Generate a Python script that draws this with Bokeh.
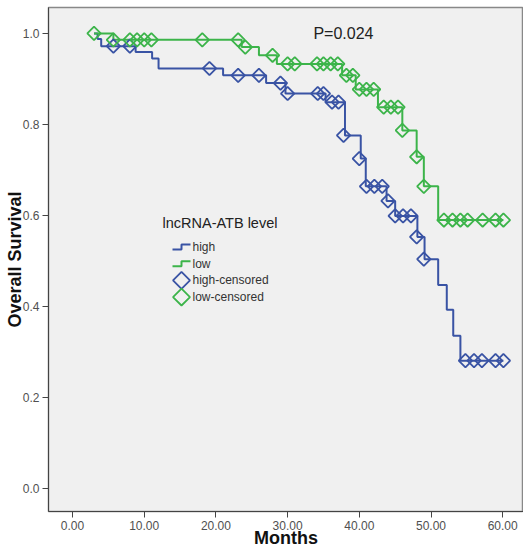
import numpy as np
from bokeh.plotting import figure
from bokeh.models import Range1d, FixedTicker, PrintfTickFormatter, Label
from bokeh.embed import file_html
from bokeh.resources import INLINE

# ---- data ----
high_step_t = [3.0, 3.5, 4.0, 8.8, 11.1, 12.0, 21.0, 27.0, 29.7, 35.3, 38.0, 40.2, 40.9,
               43.8, 45.0, 48.1, 49.1, 51.0, 52.2, 53.1, 54.1, 60.1]
high_step_s = [1.0, 0.988, 0.972, 0.959, 0.945, 0.923, 0.908, 0.891, 0.868, 0.849, 0.776,
               0.725, 0.664, 0.632, 0.599, 0.553, 0.504, 0.447, 0.393, 0.336, 0.281, 0.281]

low_step_t = [3.0, 5.7, 23.6, 26.0, 28.5, 37.6, 39.5, 42.6, 46.0, 48.0, 49.0, 51.0, 60.1]
low_step_s = [1.0, 0.986, 0.970, 0.952, 0.933, 0.908, 0.877, 0.838, 0.787, 0.729, 0.664,
              0.590, 0.590]

high_cens_t = [5.7, 8.0, 19.1, 23.1, 26.0, 29.0, 30.0, 34.2, 35.0, 36.2, 37.1, 37.8, 40.0,
               41.0, 42.1, 43.2, 44.0, 45.0, 46.1, 47.2, 48.0, 49.0, 54.8, 56.0, 57.1,
               59.0, 60.1]
high_cens_s = [0.972, 0.972, 0.923, 0.908, 0.908, 0.891, 0.868, 0.868, 0.868, 0.849, 0.849,
               0.776, 0.725, 0.664, 0.664, 0.664, 0.632, 0.599, 0.599, 0.599, 0.553, 0.504,
               0.281, 0.281, 0.281, 0.281, 0.281]

low_cens_t = [3.0, 5.7, 8.0, 9.0, 10.0, 11.0, 18.1, 23.1, 24.1, 27.9, 30.0, 31.0, 34.1,
              35.0, 36.0, 37.0, 38.2, 39.1, 40.0, 41.0, 42.0, 43.4, 44.4, 45.4, 46.0,
              48.0, 49.0, 51.8, 53.0, 54.1, 55.1, 57.2, 59.0, 60.1]
low_cens_s = [1.0, 0.986, 0.986, 0.986, 0.986, 0.986, 0.986, 0.986, 0.970, 0.952, 0.933,
              0.933, 0.933, 0.933, 0.933, 0.933, 0.908, 0.908, 0.877, 0.877, 0.877, 0.838,
              0.838, 0.838, 0.787, 0.729, 0.664, 0.590, 0.590, 0.590, 0.590, 0.590, 0.590,
              0.590]

x_ticks = [0, 10, 20, 30, 40, 50, 60]
y_ticks = [0.0, 0.2, 0.4, 0.6, 0.8, 1.0]

legend_title = "lncRNA-ATB level"
legend_labels = ["high", "low", "high-censored", "low-censored"]

BLUE = "#3953A4"
GREEN = "#3CB44A"
FONT = "Liberation Sans"

# ---- layout ----
W, H = 523, 550
BL, BB, BT, BR = 48, 38, 7, 0
X0, X1 = -3.35, 62.9
Y0, Y1 = -0.0504, 1.057
FW, FH = W - BL - BR, H - BT - BB


def px_x(px):
    """canvas pixel column -> data x"""
    return X0 + (px - BL) / FW * (X1 - X0)


def px_y(py):
    """canvas pixel row -> data y"""
    return Y1 - (py - BT) / FH * (Y1 - Y0)


p = figure(width=W, height=H, output_backend="svg", toolbar_location=None,
           x_range=Range1d(X0, X1), y_range=Range1d(Y0, Y1),
           min_border_left=BL, min_border_bottom=BB, min_border_top=BT, min_border_right=BR)

p.background_fill_color = "#F0F0F0"
p.border_fill_color = "white"
p.outline_line_color = "#888888"
p.outline_line_width = 1.5
p.xgrid.visible = False
p.ygrid.visible = False

p.step(high_step_t, high_step_s, mode="after", line_color=BLUE, line_width=2)
p.step(low_step_t, low_step_s, mode="after", line_color=GREEN, line_width=2)
p.scatter(high_cens_t, high_cens_s, marker="square", angle=np.pi / 4, size=9.5,
          fill_color=None, line_color=BLUE, line_width=1.8)
p.scatter(low_cens_t, low_cens_s, marker="square", angle=np.pi / 4, size=9.5,
          fill_color=None, line_color=GREEN, line_width=1.8)

for ax in (p.xaxis[0], p.yaxis[0]):
    ax.axis_line_color = "#444444"
    ax.major_tick_line_color = "#444444"
    ax.major_tick_out = 6
    ax.major_tick_in = 0
    ax.minor_tick_line_color = None
    ax.major_label_text_font = FONT
    ax.major_label_text_font_size = "12px"
    ax.major_label_text_color = "#505050"
    ax.axis_label_text_font = FONT
    ax.axis_label_text_font_style = "bold"
    ax.axis_label_text_color = "#111111"
    ax.axis_label_text_font_size = "18px"

p.xaxis.ticker = FixedTicker(ticks=x_ticks)
p.xaxis.formatter = PrintfTickFormatter(format="%.2f")
p.xaxis.axis_label = "Months"
p.xaxis.axis_label_standoff = -5
p.xaxis.major_label_standoff = 3

p.yaxis.ticker = FixedTicker(ticks=y_ticks)
p.yaxis.formatter = PrintfTickFormatter(format="%.1f")
p.yaxis.axis_label = "Overall Survival"
p.yaxis.axis_label_standoff = -5
p.yaxis.major_label_standoff = 3

p.add_layout(Label(x=33.6, y=1.0, text="P=0.024", text_font=FONT, text_font_size="16px",
                   text_color="#222222", text_baseline="middle"))

# ---- legend (SPSS style: title, step keys, diamond keys) ----
LEG_X, LEG_Y = 162, 223          # title position (canvas px)
ROW0, ROW_H = 247, 16.7          # first key row, row pitch (px)
KEY_L, KEY_R, KEY_MID = 172, 190, 181
TXT_X = 192

p.add_layout(Label(x=px_x(LEG_X), y=px_y(LEG_Y), text=legend_title, text_font=FONT,
                   text_font_size="14.5px", text_color="#222222", text_baseline="middle"))

colors = [BLUE, GREEN, BLUE, GREEN]
for i, (lab, col) in enumerate(zip(legend_labels, colors)):
    ry = ROW0 + i * ROW_H
    if i < 2:
        p.line([px_x(KEY_L), px_x(KEY_MID), px_x(KEY_MID), px_x(KEY_R)],
               [px_y(ry + 2.5), px_y(ry + 2.5), px_y(ry - 2.5), px_y(ry - 2.5)],
               line_color=col, line_width=2)
    else:
        p.scatter([px_x(KEY_MID)], [px_y(ry)], marker="square", angle=np.pi / 4, size=12,
                  fill_color=None, line_color=col, line_width=1.8)
    p.add_layout(Label(x=px_x(TXT_X), y=px_y(ry), text=lab, text_font=FONT,
                       text_font_size="12px", text_color="#333333", text_baseline="middle"))

open("out.html", "w").write(file_html(p, INLINE))
